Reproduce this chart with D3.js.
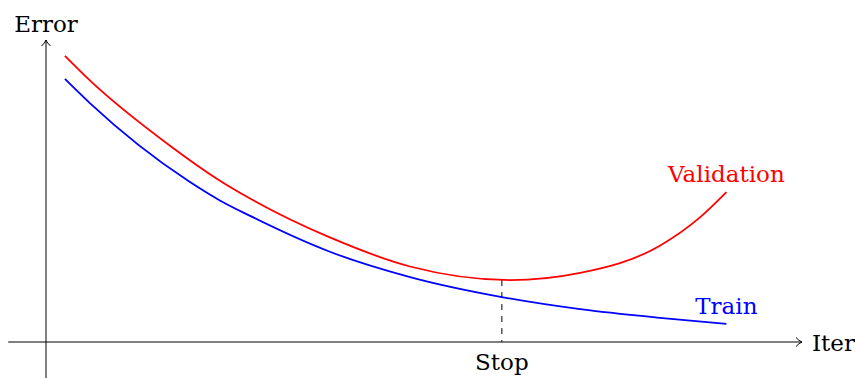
<!DOCTYPE html>
<html>
<head>
<meta charset="utf-8">
<script src="https://cdn.jsdelivr.net/npm/d3@7"></script>
<style>
  html, body { margin: 0; padding: 0; background: #fff; }
  svg { display: block; }
</style>
</head>
<body>
<svg id="chart" width="855" height="378"></svg>
<script>
// ---- data ----
const validationIter  = [0.50, 1.16, 3.28, 4.56, 5.40, 7.51, 9.63, 12.28, 14.13, 16.24, 17.30, 18.00];
const validationError = [7.58, 6.93, 5.20, 4.30, 3.80, 2.77, 2.00, 1.64, 1.83, 2.55, 3.30, 3.97];
const trainIter  = [0.50, 1.16, 3.76, 4.60, 5.40, 7.51, 9.63, 12.06, 14.13, 16.24, 18.00];
const trainError = [6.97, 6.33, 4.27, 3.75, 3.34, 2.39, 1.72, 1.19, 0.87, 0.64, 0.48];
const stopIter = 12.06;
const stopError = 1.64;
const seriesNames = ["Validation", "Train"];
const axisLabels = { x: "Iter", y: "Error", stop: "Stop" };

// ---- scales ----
const x = d3.scaleLinear().domain([0, 20]).range([46, 802]);
const y = d3.scaleLinear().domain([0, 8]).range([342, 40]);

const svg = d3.select("#chart");
const FONT = "DejaVu Serif";

// axes
const axisG = svg.append("g").attr("stroke", "#000").attr("stroke-width", 1).attr("fill", "none");
axisG.append("line")
  .attr("x1", x(-1)).attr("y1", y(0)).attr("x2", x(20)).attr("y2", y(0));
axisG.append("line")
  .attr("x1", x(0)).attr("y1", y(-1)).attr("x2", x(0)).attr("y2", y(8));
// arrow heads (TikZ "to" style)
const xa = x(20), ya = y(0);
axisG.append("path")
  .attr("d", `M${xa - 6},${ya - 4.5} Q${xa - 3},${ya - 1} ${xa},${ya} Q${xa - 3},${ya + 1} ${xa - 6},${ya + 4.5}`);
const xb = x(0), yb = y(8);
axisG.append("path")
  .attr("d", `M${xb - 4.5},${yb + 6} Q${xb - 1},${yb + 3} ${xb},${yb} Q${xb + 1},${yb + 3} ${xb + 4.5},${yb + 6}`);

// curves
const line = d3.line().x(d => x(d[0])).y(d => y(d[1])).curve(d3.curveMonotoneX);
const valData = validationIter.map((v, i) => [v, validationError[i]]);
const trainData = trainIter.map((v, i) => [v, trainError[i]]);

// stop dashed line
svg.append("line")
  .attr("x1", x(stopIter)).attr("y1", y(stopError))
  .attr("x2", x(stopIter)).attr("y2", y(0))
  .attr("stroke", "#000").attr("stroke-width", 1)
  .attr("stroke-dasharray", "6,6");

svg.append("path").datum(valData).attr("d", line)
  .attr("fill", "none").attr("stroke", "#ff0000").attr("stroke-width", 1.8);
svg.append("path").datum(trainData).attr("d", line)
  .attr("fill", "none").attr("stroke", "#0000ff").attr("stroke-width", 1.8);

// labels
const fs = 23;
function label(txt, px, py, anchor, color) {
  svg.append("text").text(txt)
    .attr("x", px).attr("y", py).attr("text-anchor", anchor)
    .attr("font-family", FONT).attr("font-size", fs).attr("fill", color);
}
label(axisLabels.y, x(0), 31.5, "middle", "#000");
label(axisLabels.x, x(20) + 10, y(0) + 8.5, "start", "#000");
label(axisLabels.stop, x(stopIter), 369.5, "middle", "#000");

const vEnd = valData[valData.length - 1];
const tEnd = trainData[trainData.length - 1];
label(seriesNames[0], x(vEnd[0]), 182, "middle", "#ff0000");
label(seriesNames[1], x(tEnd[0]), 314, "middle", "#0000ff");
</script>
</body>
</html>
